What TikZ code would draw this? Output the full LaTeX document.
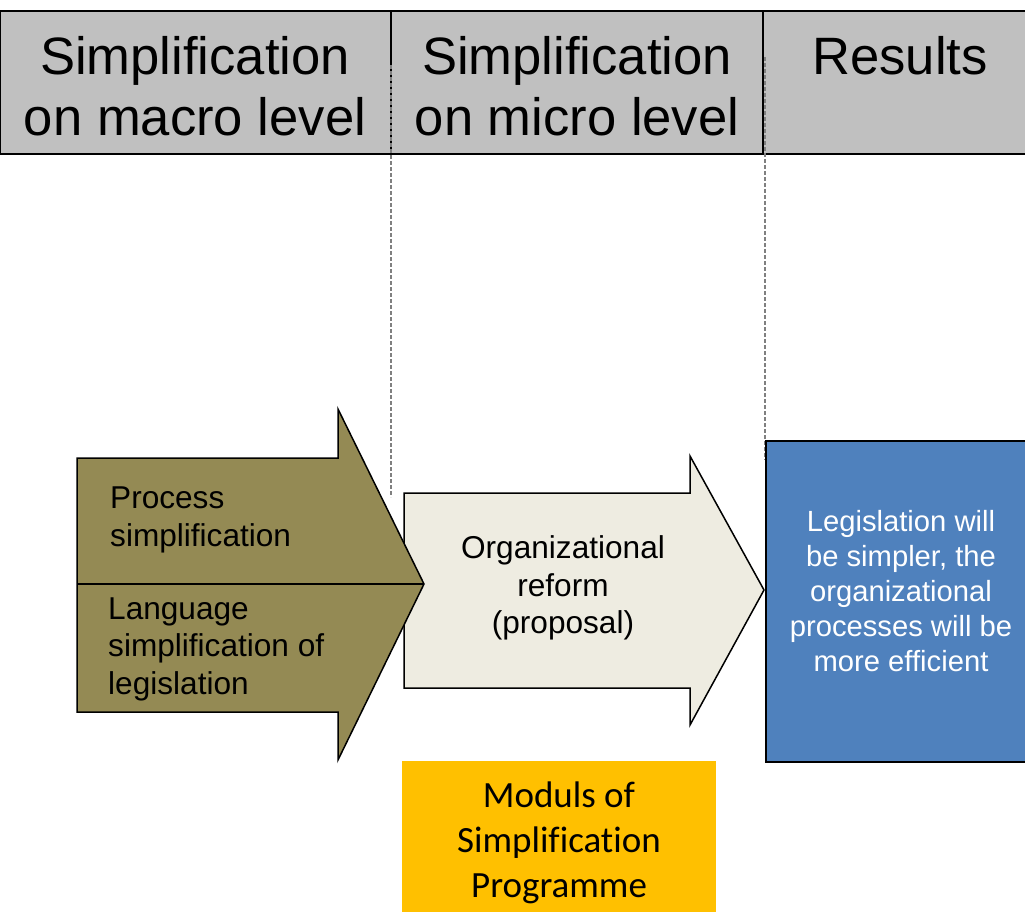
\documentclass[tikz,border=0pt]{standalone}
\usepackage{fontspec}
\setmainfont[Ligatures=NoCommon]{Liberation Sans}
\newfontfamily\carlito[Ligatures=NoCommon]{Carlito}
\definecolor{hdrgray}{HTML}{C0C0C0}
\definecolor{olivefill}{HTML}{948A54}
\definecolor{paperfill}{HTML}{EEECE1}
\definecolor{steelfill}{HTML}{4F81BD}
\definecolor{amberfill}{HTML}{FFC000}
\definecolor{guidegray}{HTML}{808080}
\begin{document}
\begin{tikzpicture}[x=1pt,y=-1pt,
  hdrbox/.style={draw=black,fill=hdrgray,line width=1.6pt},
  hdrtxt/.style={inner sep=0pt,align=center,font=\fontsize{52.6}{61}\selectfont},
  guide/.style={draw=guidegray,line width=1.2pt,dash pattern=on 4pt off 2pt},
  arrowshape/.style={draw=black,line width=1.5pt,line join=miter},
  bodytxt/.style={inner sep=0pt,font=\fontsize{31.6}{37.5}\selectfont},
  bluetxt/.style={inner sep=0pt,align=center,text=white,font=\fontsize{29.2}{35}\selectfont},
  yellowtxt/.style={inner sep=0pt,align=center,font=\carlito\fontsize{37}{45}\selectfont}]
\useasboundingbox (0,0) rectangle (1025,912);
\fill[white] (0,0) rectangle (1025,912);
% header
\draw[hdrbox] (0,11) rectangle (1040,154);
\draw[line width=1.6pt] (391,11) -- (391,154);
\draw[line width=1.6pt] (763,11) -- (763,154);
\node[hdrtxt] (h1) at (195,86.5) {Simplification\\on macro level};
\node[hdrtxt] (h2) at (577,86.5) {Simplification\\on micro level};
\node[hdrtxt] (h3) at (900,56) {Results};
% guides
\draw[guide] (391,65) -- (391,497);
\draw[guide] (765,57) -- (765,460);
% middle arrow
\draw[arrowshape,fill=paperfill] (404,493) -- (690,493) -- (690,456) -- (764,590) -- (690,725) -- (690,688) -- (404,688) -- cycle;
% left arrow
\draw[arrowshape,fill=olivefill] (77,458) -- (338,458) -- (338,409) -- (424,584) -- (338,760) -- (338,712) -- (77,712) -- cycle;
\draw[arrowshape] (77,584) -- (424,584);
% result box
\draw[fill=steelfill,draw=black,line width=1.6pt] (766,441) rectangle (1040,762);
% programme box
\fill[amberfill] (402,761) rectangle (716,912);
% texts
\node[bodytxt,anchor=west,align=left] (t1) at (110,520) {Process\\simplification};
\node[bodytxt,anchor=west,align=left] (t2) at (108,649) {Language\\simplification of\\legislation};
\node[bodytxt,align=center] (t3) at (563,588) {Organizational\\reform\\(proposal)};
\node[bluetxt] (t4) at (901,591) {Legislation will\\be simpler, the\\organizational\\processes will be\\more efficient};
\node[yellowtxt] (t5) at (559,843) {Moduls of\\Simplification\\Programme};
\end{tikzpicture}
\end{document}
